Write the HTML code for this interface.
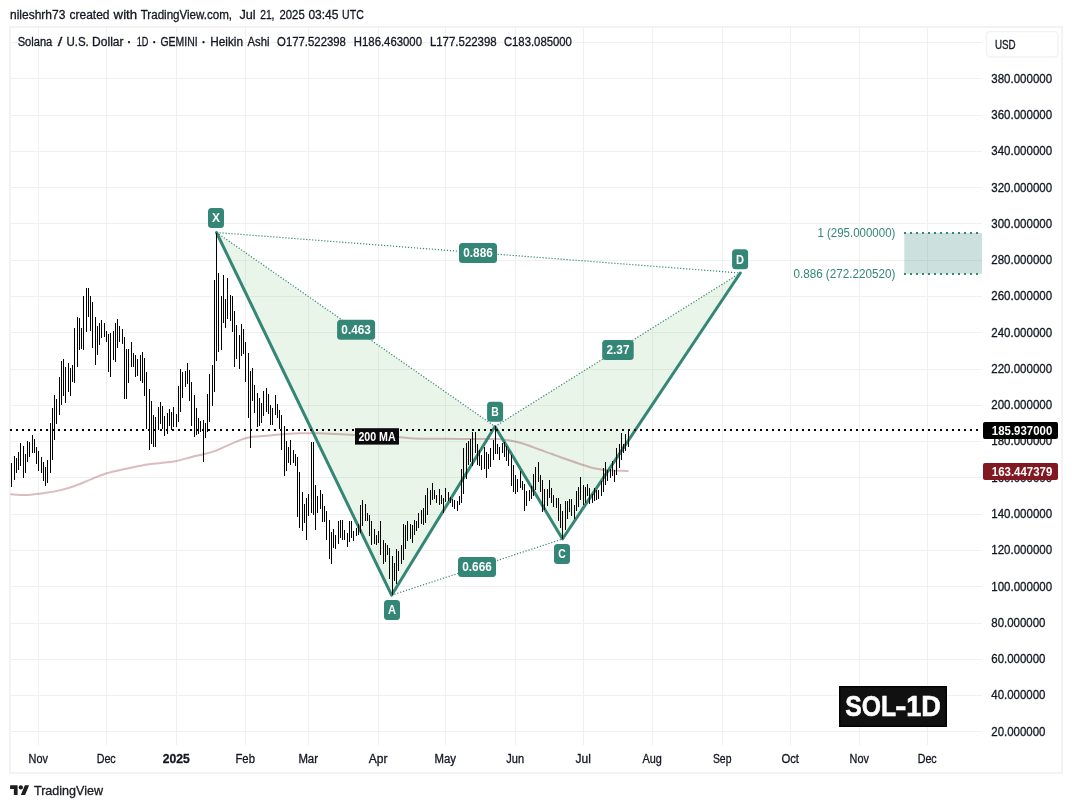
<!DOCTYPE html><html><head><meta charset="utf-8"><title>SOL-1D TradingView chart</title>
<style>html,body{margin:0;padding:0;background:#fff;}body{width:1072px;height:808px;overflow:hidden;}svg{display:block;font-family:"Liberation Sans", sans-serif;}text{white-space:pre;}.n{stroke:#131722;stroke-width:0.3px;}.w{stroke:#fff;stroke-width:0.3px;}</style></head><body>
<svg width="1072" height="808" viewBox="0 0 1072 808">
<rect width="1072" height="808" fill="#fff"/>
<text class="n" x="10.0" y="19" font-size="12.5" fill="#131722" textLength="55.4" lengthAdjust="spacingAndGlyphs">nileshrh73</text>
<text class="n" x="69.5" y="19" font-size="12.5" fill="#131722" textLength="40.0" lengthAdjust="spacingAndGlyphs">created</text>
<text class="n" x="113.6" y="19" font-size="12.5" fill="#131722" textLength="23.5" lengthAdjust="spacingAndGlyphs">with</text>
<text class="n" x="140.7" y="19" font-size="12.5" fill="#131722" textLength="91.4" lengthAdjust="spacingAndGlyphs">TradingView.com,</text>
<text class="n" x="239.4" y="19" font-size="12.5" fill="#131722" textLength="16.2" lengthAdjust="spacingAndGlyphs">Jul</text>
<text class="n" x="260.2" y="19" font-size="12.5" fill="#131722" textLength="14.3" lengthAdjust="spacingAndGlyphs">21,</text>
<text class="n" x="279.5" y="19" font-size="12.5" fill="#131722" textLength="25.2" lengthAdjust="spacingAndGlyphs">2025</text>
<text class="n" x="308.4" y="19" font-size="12.5" fill="#131722" textLength="30.1" lengthAdjust="spacingAndGlyphs">03:45</text>
<text class="n" x="342.1" y="19" font-size="12.5" fill="#131722" textLength="21.7" lengthAdjust="spacingAndGlyphs">UTC</text>
<rect x="10" y="27" width="1052" height="746" fill="none" stroke="#f3f3f3" stroke-width="2"/>
<g fill="#f0f0f1" shape-rendering="crispEdges"><rect x="38" y="28" width="1" height="716.5"/><rect x="106" y="28" width="1" height="716.5"/><rect x="176" y="28" width="1" height="716.5"/><rect x="245" y="28" width="1" height="716.5"/><rect x="308" y="28" width="1" height="716.5"/><rect x="378" y="28" width="1" height="716.5"/><rect x="445" y="28" width="1" height="716.5"/><rect x="515" y="28" width="1" height="716.5"/><rect x="583" y="28" width="1" height="716.5"/><rect x="652" y="28" width="1" height="716.5"/><rect x="722" y="28" width="1" height="716.5"/><rect x="790" y="28" width="1" height="716.5"/><rect x="859" y="28" width="1" height="716.5"/><rect x="927" y="28" width="1" height="716.5"/><rect x="11" y="42" width="971" height="1"/><rect x="11" y="78" width="971" height="1"/><rect x="11" y="115" width="971" height="1"/><rect x="11" y="151" width="971" height="1"/><rect x="11" y="187" width="971" height="1"/><rect x="11" y="223" width="971" height="1"/><rect x="11" y="260" width="971" height="1"/><rect x="11" y="296" width="971" height="1"/><rect x="11" y="332" width="971" height="1"/><rect x="11" y="369" width="971" height="1"/><rect x="11" y="405" width="971" height="1"/><rect x="11" y="441" width="971" height="1"/><rect x="11" y="477" width="971" height="1"/><rect x="11" y="514" width="971" height="1"/><rect x="11" y="550" width="971" height="1"/><rect x="11" y="586" width="971" height="1"/><rect x="11" y="623" width="971" height="1"/><rect x="11" y="659" width="971" height="1"/><rect x="11" y="695" width="971" height="1"/><rect x="11" y="731" width="971" height="1"/></g>
<g fill="rgba(76,175,80,0.125)"><polygon points="216.5,232.5 391.6,595.2 495.0,426.5"/><polygon points="495.0,426.5 562.5,539.0 740.3,273.0"/></g>
<path d="M10.4 494.2C13.2 494.3 21.2 495.1 26.9 494.9C32.6 494.7 39.3 493.8 44.8 493.0C50.3 492.2 54.7 491.6 59.7 490.4C64.7 489.2 69.6 487.8 74.6 486.0C79.6 484.2 84.6 481.9 89.6 479.9C94.6 477.9 99.5 475.6 104.5 474.0C109.5 472.4 114.4 471.4 119.4 470.2C124.4 469.0 129.3 468.0 134.3 467.0C139.3 466.0 144.2 464.9 149.3 464.2C154.4 463.5 160.2 463.1 164.7 462.6C169.2 462.1 172.0 461.9 176.5 461.0C181.0 460.1 187.1 458.1 191.6 457.0C196.1 455.9 199.9 455.2 203.5 454.3C207.1 453.4 209.9 452.7 213.0 451.6C216.1 450.6 219.2 449.2 222.0 448.0C224.8 446.8 227.0 445.7 230.0 444.4C233.0 443.1 236.7 441.3 240.0 440.1C243.3 438.9 245.0 438.1 250.0 437.3C255.0 436.5 263.3 436.1 270.0 435.5C276.7 434.9 285.0 434.1 290.0 433.7C295.0 433.3 295.8 433.3 300.0 433.2C304.2 433.1 310.0 433.2 315.0 433.3C320.0 433.4 323.3 433.4 330.0 433.7C336.7 434.0 346.7 434.6 355.0 435.0C363.3 435.4 372.5 435.8 380.0 436.2C387.5 436.6 394.2 436.8 400.0 437.2C405.8 437.6 407.5 438.2 415.0 438.5C422.5 438.8 435.8 438.6 445.0 438.7C454.2 438.8 461.7 438.9 470.0 439.0C478.3 439.1 489.5 438.9 495.0 439.0C500.5 439.1 500.5 439.2 503.0 439.4C505.5 439.6 507.2 439.8 510.0 440.4C512.8 440.9 516.7 441.8 520.0 442.7C523.3 443.6 526.7 444.8 530.0 446.0C533.3 447.2 536.3 448.5 540.0 449.8C543.7 451.1 548.7 452.8 552.0 454.0C555.3 455.2 557.0 455.9 560.0 457.0C563.0 458.1 566.7 459.3 570.0 460.5C573.3 461.7 576.7 462.9 580.0 464.0C583.3 465.1 586.7 466.4 590.0 467.3C593.3 468.2 596.7 468.7 600.0 469.2C603.3 469.7 606.7 469.9 610.0 470.2C613.3 470.4 616.9 470.6 620.0 470.7C623.1 470.8 627.1 470.9 628.5 471.0" fill="none" stroke="rgba(128,25,34,0.29)" stroke-width="2" stroke-linejoin="round"/>
<polyline points="216.5,232.5 391.6,595.2 495.0,426.5 562.5,539.0 740.3,273.0" fill="none" stroke="#348676" stroke-width="3" stroke-linejoin="round" stroke-linecap="round"/>
<g stroke="#348676" stroke-width="1.2" stroke-dasharray="1.2 1.8" fill="none"><line x1="216.5" y1="232.5" x2="495.0" y2="426.5"/><line x1="495.0" y1="426.5" x2="740.3" y2="273.0"/><line x1="391.6" y1="595.2" x2="562.5" y2="539.0"/><line x1="216.5" y1="232.5" x2="740.3" y2="273.0"/></g>
<g fill="#000" shape-rendering="crispEdges"><rect x="11" y="463" width="1" height="24"/><rect x="14" y="456" width="1" height="24"/><rect x="16" y="458" width="1" height="15"/><rect x="18" y="452" width="1" height="18"/><rect x="20" y="443" width="1" height="23"/><rect x="23" y="446" width="1" height="32"/><rect x="25" y="454" width="1" height="19"/><rect x="27" y="441" width="1" height="21"/><rect x="29" y="442" width="1" height="15"/><rect x="32" y="435" width="1" height="18"/><rect x="34" y="439" width="1" height="14"/><rect x="36" y="447" width="1" height="17"/><rect x="38" y="451" width="1" height="20"/><rect x="41" y="457" width="1" height="16"/><rect x="43" y="462" width="1" height="19"/><rect x="45" y="467" width="1" height="19"/><rect x="47" y="460" width="1" height="23"/><rect x="50" y="423" width="1" height="50"/><rect x="52" y="408" width="1" height="52"/><rect x="54" y="395" width="1" height="45"/><rect x="56" y="399" width="1" height="25"/><rect x="59" y="377" width="1" height="38"/><rect x="61" y="361" width="1" height="44"/><rect x="63" y="359" width="1" height="37"/><rect x="65" y="367" width="1" height="36"/><rect x="68" y="363" width="1" height="29"/><rect x="70" y="368" width="1" height="28"/><rect x="72" y="365" width="1" height="17"/><rect x="74" y="328" width="1" height="55"/><rect x="77" y="317" width="1" height="50"/><rect x="79" y="318" width="1" height="32"/><rect x="81" y="328" width="1" height="21"/><rect x="83" y="296" width="1" height="54"/><rect x="86" y="288" width="1" height="44"/><rect x="88" y="288" width="1" height="29"/><rect x="90" y="296" width="1" height="35"/><rect x="92" y="302" width="1" height="46"/><rect x="95" y="317" width="1" height="48"/><rect x="97" y="326" width="1" height="29"/><rect x="99" y="323" width="1" height="22"/><rect x="101" y="320" width="1" height="18"/><rect x="104" y="323" width="1" height="14"/><rect x="106" y="331" width="1" height="11"/><rect x="108" y="334" width="1" height="38"/><rect x="110" y="333" width="1" height="44"/><rect x="113" y="331" width="1" height="29"/><rect x="115" y="323" width="1" height="39"/><rect x="117" y="319" width="1" height="29"/><rect x="119" y="326" width="1" height="16"/><rect x="122" y="329" width="1" height="15"/><rect x="124" y="337" width="1" height="62"/><rect x="126" y="349" width="1" height="50"/><rect x="128" y="349" width="1" height="34"/><rect x="131" y="342" width="1" height="25"/><rect x="133" y="353" width="1" height="14"/><rect x="135" y="355" width="1" height="22"/><rect x="137" y="359" width="1" height="17"/><rect x="140" y="355" width="1" height="26"/><rect x="142" y="352" width="1" height="31"/><rect x="144" y="358" width="1" height="38"/><rect x="146" y="372" width="1" height="57"/><rect x="149" y="389" width="1" height="61"/><rect x="151" y="401" width="1" height="43"/><rect x="153" y="415" width="1" height="32"/><rect x="155" y="417" width="1" height="30"/><rect x="158" y="407" width="1" height="23"/><rect x="160" y="402" width="1" height="22"/><rect x="162" y="406" width="1" height="23"/><rect x="164" y="416" width="1" height="20"/><rect x="167" y="413" width="1" height="21"/><rect x="169" y="409" width="1" height="17"/><rect x="171" y="412" width="1" height="18"/><rect x="173" y="407" width="1" height="20"/><rect x="176" y="414" width="1" height="13"/><rect x="178" y="386" width="1" height="36"/><rect x="180" y="369" width="1" height="43"/><rect x="182" y="372" width="1" height="26"/><rect x="185" y="371" width="1" height="16"/><rect x="187" y="363" width="1" height="21"/><rect x="189" y="370" width="1" height="31"/><rect x="191" y="382" width="1" height="44"/><rect x="194" y="395" width="1" height="42"/><rect x="196" y="408" width="1" height="27"/><rect x="198" y="418" width="1" height="16"/><rect x="200" y="421" width="1" height="11"/><rect x="203" y="420" width="1" height="42"/><rect x="205" y="423" width="1" height="15"/><rect x="207" y="394" width="1" height="38"/><rect x="209" y="374" width="1" height="48"/><rect x="212" y="365" width="1" height="41"/><rect x="214" y="280" width="1" height="112"/><rect x="216" y="233" width="1" height="128"/><rect x="218" y="273" width="1" height="79"/><rect x="221" y="296" width="1" height="54"/><rect x="223" y="275" width="1" height="48"/><rect x="225" y="299" width="1" height="29"/><rect x="227" y="278" width="1" height="41"/><rect x="230" y="295" width="1" height="26"/><rect x="232" y="296" width="1" height="36"/><rect x="234" y="311" width="1" height="56"/><rect x="236" y="325" width="1" height="34"/><rect x="239" y="335" width="1" height="34"/><rect x="241" y="324" width="1" height="32"/><rect x="243" y="329" width="1" height="25"/><rect x="245" y="342" width="1" height="40"/><rect x="248" y="353" width="1" height="65"/><rect x="250" y="371" width="1" height="77"/><rect x="252" y="368" width="1" height="33"/><rect x="254" y="385" width="1" height="28"/><rect x="257" y="393" width="1" height="34"/><rect x="259" y="398" width="1" height="28"/><rect x="261" y="403" width="1" height="20"/><rect x="263" y="391" width="1" height="25"/><rect x="266" y="388" width="1" height="24"/><rect x="268" y="394" width="1" height="20"/><rect x="270" y="405" width="1" height="20"/><rect x="272" y="408" width="1" height="17"/><rect x="275" y="395" width="1" height="20"/><rect x="277" y="404" width="1" height="14"/><rect x="279" y="410" width="1" height="19"/><rect x="281" y="415" width="1" height="35"/><rect x="284" y="426" width="1" height="50"/><rect x="286" y="441" width="1" height="30"/><rect x="288" y="447" width="1" height="16"/><rect x="290" y="440" width="1" height="25"/><rect x="293" y="450" width="1" height="13"/><rect x="295" y="454" width="1" height="12"/><rect x="297" y="457" width="1" height="60"/><rect x="299" y="472" width="1" height="56"/><rect x="302" y="492" width="1" height="39"/><rect x="304" y="504" width="1" height="19"/><rect x="306" y="498" width="1" height="42"/><rect x="308" y="494" width="1" height="22"/><rect x="311" y="442" width="1" height="71"/><rect x="313" y="442" width="1" height="73"/><rect x="315" y="485" width="1" height="45"/><rect x="317" y="496" width="1" height="17"/><rect x="320" y="490" width="1" height="19"/><rect x="322" y="494" width="1" height="28"/><rect x="324" y="506" width="1" height="16"/><rect x="326" y="511" width="1" height="29"/><rect x="329" y="520" width="1" height="39"/><rect x="331" y="532" width="1" height="32"/><rect x="333" y="529" width="1" height="19"/><rect x="335" y="535" width="1" height="14"/><rect x="338" y="521" width="1" height="23"/><rect x="340" y="520" width="1" height="18"/><rect x="342" y="520" width="1" height="20"/><rect x="344" y="530" width="1" height="10"/><rect x="347" y="533" width="1" height="14"/><rect x="349" y="521" width="1" height="21"/><rect x="351" y="521" width="1" height="17"/><rect x="353" y="531" width="1" height="10"/><rect x="356" y="528" width="1" height="8"/><rect x="358" y="524" width="1" height="11"/><rect x="360" y="505" width="1" height="28"/><rect x="362" y="500" width="1" height="26"/><rect x="365" y="504" width="1" height="17"/><rect x="367" y="513" width="1" height="8"/><rect x="369" y="515" width="1" height="21"/><rect x="371" y="521" width="1" height="24"/><rect x="374" y="529" width="1" height="15"/><rect x="376" y="535" width="1" height="10"/><rect x="378" y="531" width="1" height="12"/><rect x="380" y="521" width="1" height="34"/><rect x="383" y="540" width="1" height="24"/><rect x="385" y="543" width="1" height="19"/><rect x="387" y="545" width="1" height="10"/><rect x="389" y="548" width="1" height="31"/><rect x="392" y="556" width="1" height="39"/><rect x="394" y="563" width="1" height="18"/><rect x="396" y="549" width="1" height="35"/><rect x="398" y="551" width="1" height="20"/><rect x="401" y="545" width="1" height="19"/><rect x="403" y="524" width="1" height="36"/><rect x="405" y="525" width="1" height="24"/><rect x="407" y="521" width="1" height="20"/><rect x="410" y="524" width="1" height="15"/><rect x="412" y="525" width="1" height="18"/><rect x="414" y="520" width="1" height="15"/><rect x="416" y="521" width="1" height="10"/><rect x="418" y="513" width="1" height="15"/><rect x="421" y="510" width="1" height="14"/><rect x="423" y="508" width="1" height="17"/><rect x="425" y="495" width="1" height="28"/><rect x="427" y="488" width="1" height="27"/><rect x="430" y="490" width="1" height="15"/><rect x="432" y="483" width="1" height="17"/><rect x="434" y="490" width="1" height="9"/><rect x="436" y="495" width="1" height="8"/><rect x="439" y="489" width="1" height="16"/><rect x="441" y="495" width="1" height="9"/><rect x="443" y="498" width="1" height="15"/><rect x="445" y="488" width="1" height="14"/><rect x="448" y="492" width="1" height="9"/><rect x="450" y="497" width="1" height="6"/><rect x="452" y="499" width="1" height="8"/><rect x="454" y="500" width="1" height="9"/><rect x="457" y="501" width="1" height="10"/><rect x="459" y="496" width="1" height="9"/><rect x="461" y="469" width="1" height="34"/><rect x="463" y="448" width="1" height="46"/><rect x="466" y="443" width="1" height="36"/><rect x="468" y="441" width="1" height="24"/><rect x="470" y="439" width="1" height="23"/><rect x="472" y="432" width="1" height="34"/><rect x="475" y="432" width="1" height="21"/><rect x="477" y="444" width="1" height="21"/><rect x="479" y="450" width="1" height="16"/><rect x="481" y="455" width="1" height="15"/><rect x="484" y="447" width="1" height="22"/><rect x="486" y="452" width="1" height="26"/><rect x="488" y="454" width="1" height="15"/><rect x="490" y="448" width="1" height="19"/><rect x="493" y="440" width="1" height="20"/><rect x="495" y="426" width="1" height="28"/><rect x="497" y="444" width="1" height="10"/><rect x="499" y="447" width="1" height="13"/><rect x="502" y="443" width="1" height="10"/><rect x="504" y="442" width="1" height="15"/><rect x="506" y="446" width="1" height="15"/><rect x="508" y="450" width="1" height="16"/><rect x="511" y="455" width="1" height="31"/><rect x="513" y="465" width="1" height="27"/><rect x="515" y="475" width="1" height="19"/><rect x="517" y="479" width="1" height="13"/><rect x="520" y="471" width="1" height="17"/><rect x="522" y="481" width="1" height="9"/><rect x="524" y="484" width="1" height="27"/><rect x="526" y="491" width="1" height="15"/><rect x="529" y="490" width="1" height="11"/><rect x="531" y="486" width="1" height="13"/><rect x="533" y="474" width="1" height="22"/><rect x="535" y="467" width="1" height="23"/><rect x="538" y="462" width="1" height="20"/><rect x="540" y="475" width="1" height="17"/><rect x="542" y="480" width="1" height="32"/><rect x="544" y="489" width="1" height="21"/><rect x="547" y="489" width="1" height="17"/><rect x="549" y="480" width="1" height="18"/><rect x="551" y="488" width="1" height="15"/><rect x="553" y="495" width="1" height="12"/><rect x="556" y="498" width="1" height="10"/><rect x="558" y="498" width="1" height="23"/><rect x="560" y="504" width="1" height="24"/><rect x="562" y="511" width="1" height="28"/><rect x="565" y="501" width="1" height="29"/><rect x="567" y="501" width="1" height="18"/><rect x="569" y="499" width="1" height="13"/><rect x="571" y="499" width="1" height="17"/><rect x="574" y="505" width="1" height="14"/><rect x="576" y="491" width="1" height="20"/><rect x="578" y="487" width="1" height="20"/><rect x="580" y="477" width="1" height="23"/><rect x="583" y="485" width="1" height="20"/><rect x="585" y="487" width="1" height="16"/><rect x="587" y="484" width="1" height="12"/><rect x="589" y="488" width="1" height="16"/><rect x="592" y="494" width="1" height="9"/><rect x="594" y="488" width="1" height="13"/><rect x="596" y="490" width="1" height="10"/><rect x="598" y="490" width="1" height="9"/><rect x="601" y="481" width="1" height="15"/><rect x="603" y="468" width="1" height="24"/><rect x="605" y="462" width="1" height="23"/><rect x="607" y="470" width="1" height="11"/><rect x="610" y="469" width="1" height="9"/><rect x="612" y="461" width="1" height="15"/><rect x="614" y="470" width="1" height="12"/><rect x="616" y="448" width="1" height="27"/><rect x="619" y="444" width="1" height="24"/><rect x="621" y="433" width="1" height="27"/><rect x="623" y="444" width="1" height="9"/><rect x="625" y="434" width="1" height="17"/><rect x="628" y="429" width="1" height="18"/></g>
<line x1="10" y1="430" x2="982" y2="430" stroke="#000" stroke-width="2" stroke-dasharray="2 4" shape-rendering="crispEdges"/>
<rect x="904.3" y="233" width="77.7" height="40.7" fill="rgba(52,134,118,0.25)"/>
<g stroke="#348676" stroke-width="2" stroke-dasharray="2 4" shape-rendering="crispEdges"><line x1="904" y1="233" x2="982" y2="233"/><line x1="904" y1="274" x2="982" y2="274"/></g>
<text x="895.4" y="237.3" font-size="12" fill="#348676" text-anchor="end" textLength="78" lengthAdjust="spacingAndGlyphs">1 (295.000000)</text>
<text x="895.4" y="278" font-size="12" fill="#348676" text-anchor="end" textLength="102" lengthAdjust="spacingAndGlyphs">0.886 (272.220520)</text>
<rect x="208.0" y="208.0" width="16.0" height="20.0" rx="3.5" fill="#348676"/><text x="216.0" y="222.4" font-size="12" font-weight="bold" fill="#fff" text-anchor="middle" textLength="8.0" lengthAdjust="spacingAndGlyphs">X</text>
<rect x="384.0" y="600.0" width="16.0" height="20.0" rx="3.5" fill="#348676"/><text x="392.0" y="614.4" font-size="12" font-weight="bold" fill="#fff" text-anchor="middle" textLength="8.0" lengthAdjust="spacingAndGlyphs">A</text>
<rect x="487.1" y="401.8" width="16.0" height="20.0" rx="3.5" fill="#348676"/><text x="495.1" y="416.2" font-size="12" font-weight="bold" fill="#fff" text-anchor="middle" textLength="7.5" lengthAdjust="spacingAndGlyphs">B</text>
<rect x="554.0" y="544.0" width="16.0" height="20.0" rx="3.5" fill="#348676"/><text x="562.0" y="558.4" font-size="12" font-weight="bold" fill="#fff" text-anchor="middle" textLength="7.5" lengthAdjust="spacingAndGlyphs">C</text>
<rect x="732.1" y="249.2" width="16.0" height="20.0" rx="3.5" fill="#348676"/><text x="740.1" y="263.6" font-size="12" font-weight="bold" fill="#fff" text-anchor="middle" textLength="8.0" lengthAdjust="spacingAndGlyphs">D</text>
<rect x="459.0" y="243.0" width="38.0" height="20.0" rx="3.5" fill="#348676"/><text x="478.0" y="257.4" font-size="12" font-weight="bold" fill="#fff" text-anchor="middle" textLength="29.5" lengthAdjust="spacingAndGlyphs">0.886</text>
<rect x="337.1" y="319.8" width="38.0" height="20.0" rx="3.5" fill="#348676"/><text x="356.1" y="334.2" font-size="12" font-weight="bold" fill="#fff" text-anchor="middle" textLength="29.5" lengthAdjust="spacingAndGlyphs">0.463</text>
<rect x="602.2" y="340.0" width="31.5" height="20.0" rx="3.5" fill="#348676"/><text x="618.0" y="354.4" font-size="12" font-weight="bold" fill="#fff" text-anchor="middle" textLength="23.0" lengthAdjust="spacingAndGlyphs">2.37</text>
<rect x="458.0" y="557.0" width="38.0" height="20.0" rx="3.5" fill="#348676"/><text x="477.0" y="571.4" font-size="12" font-weight="bold" fill="#fff" text-anchor="middle" textLength="29.5" lengthAdjust="spacingAndGlyphs">0.666</text>
<rect x="355" y="428.2" width="44" height="16.4" fill="#0a0a0a"/>
<text x="358.4" y="440.6" font-size="12" font-weight="bold" fill="#fff" textLength="37.3" lengthAdjust="spacingAndGlyphs">200 MA</text>
<text class="n" x="17.7" y="46.1" font-size="12" fill="#131722" textLength="34.6" lengthAdjust="spacingAndGlyphs">Solana</text>
<text class="n" x="57.7" y="46.1" font-size="12" fill="#131722" textLength="4.6" lengthAdjust="spacingAndGlyphs">/</text>
<text class="n" x="66.4" y="46.1" font-size="12" fill="#131722" textLength="22.4" lengthAdjust="spacingAndGlyphs">U.S.</text>
<text class="n" x="92.1" y="46.1" font-size="12" fill="#131722" textLength="31.4" lengthAdjust="spacingAndGlyphs">Dollar</text>
<text class="n" x="127.5" y="46.1" font-size="13" fill="#131722" textLength="3.6" lengthAdjust="spacingAndGlyphs" font-weight="bold">·</text>
<text class="n" x="136.7" y="46.1" font-size="12" fill="#131722" textLength="11.7" lengthAdjust="spacingAndGlyphs">1D</text>
<text class="n" x="152.7" y="46.1" font-size="13" fill="#131722" textLength="3.6" lengthAdjust="spacingAndGlyphs" font-weight="bold">·</text>
<text class="n" x="160.5" y="46.1" font-size="12" fill="#131722" textLength="37.1" lengthAdjust="spacingAndGlyphs">GEMINI</text>
<text class="n" x="201.9" y="46.1" font-size="13" fill="#131722" textLength="3.6" lengthAdjust="spacingAndGlyphs" font-weight="bold">·</text>
<text class="n" x="210.3" y="46.1" font-size="12" fill="#131722" textLength="32.7" lengthAdjust="spacingAndGlyphs">Heikin</text>
<text class="n" x="247.6" y="46.1" font-size="12" fill="#131722" textLength="21.9" lengthAdjust="spacingAndGlyphs">Ashi</text>
<text class="n" x="277.1" y="46.1" font-size="12" fill="#131722" textLength="68.8" lengthAdjust="spacingAndGlyphs">O177.522398</text>
<text class="n" x="353.8" y="46.1" font-size="12" fill="#131722" textLength="68.2" lengthAdjust="spacingAndGlyphs">H186.463000</text>
<text class="n" x="429.9" y="46.1" font-size="12" fill="#131722" textLength="66.8" lengthAdjust="spacingAndGlyphs">L177.522398</text>
<text class="n" x="503.9" y="46.1" font-size="12" fill="#131722" textLength="68.0" lengthAdjust="spacingAndGlyphs">C183.085000</text>
<rect x="986.5" y="31.5" width="71.5" height="25.5" rx="4" fill="#fff" stroke="#f3f3f3" stroke-width="1.6"/>
<text class="n" x="995.0" y="49.0" font-size="12" fill="#131722" textLength="20.7" lengthAdjust="spacingAndGlyphs">USD</text>
<text class="n" x="991.3" y="82.6" font-size="12" fill="#131722" textLength="60.8" lengthAdjust="spacingAndGlyphs">380.000000</text>
<text class="n" x="991.3" y="118.9" font-size="12" fill="#131722" textLength="60.8" lengthAdjust="spacingAndGlyphs">360.000000</text>
<text class="n" x="991.3" y="155.2" font-size="12" fill="#131722" textLength="60.8" lengthAdjust="spacingAndGlyphs">340.000000</text>
<text class="n" x="991.3" y="191.5" font-size="12" fill="#131722" textLength="60.8" lengthAdjust="spacingAndGlyphs">320.000000</text>
<text class="n" x="991.3" y="227.8" font-size="12" fill="#131722" textLength="60.8" lengthAdjust="spacingAndGlyphs">300.000000</text>
<text class="n" x="991.3" y="264.1" font-size="12" fill="#131722" textLength="60.8" lengthAdjust="spacingAndGlyphs">280.000000</text>
<text class="n" x="991.3" y="300.3" font-size="12" fill="#131722" textLength="60.8" lengthAdjust="spacingAndGlyphs">260.000000</text>
<text class="n" x="991.3" y="336.6" font-size="12" fill="#131722" textLength="60.8" lengthAdjust="spacingAndGlyphs">240.000000</text>
<text class="n" x="991.3" y="372.9" font-size="12" fill="#131722" textLength="60.8" lengthAdjust="spacingAndGlyphs">220.000000</text>
<text class="n" x="991.3" y="409.2" font-size="12" fill="#131722" textLength="60.8" lengthAdjust="spacingAndGlyphs">200.000000</text>
<text class="n" x="991.3" y="445.4" font-size="12" fill="#131722" textLength="60.8" lengthAdjust="spacingAndGlyphs">180.000000</text>
<text class="n" x="991.3" y="481.7" font-size="12" fill="#131722" textLength="60.8" lengthAdjust="spacingAndGlyphs">160.000000</text>
<text class="n" x="991.3" y="518.0" font-size="12" fill="#131722" textLength="60.8" lengthAdjust="spacingAndGlyphs">140.000000</text>
<text class="n" x="991.3" y="554.3" font-size="12" fill="#131722" textLength="60.8" lengthAdjust="spacingAndGlyphs">120.000000</text>
<text class="n" x="991.3" y="590.6" font-size="12" fill="#131722" textLength="60.8" lengthAdjust="spacingAndGlyphs">100.000000</text>
<text class="n" x="991.3" y="626.9" font-size="12" fill="#131722" textLength="54.2" lengthAdjust="spacingAndGlyphs">80.000000</text>
<text class="n" x="991.3" y="663.1" font-size="12" fill="#131722" textLength="54.2" lengthAdjust="spacingAndGlyphs">60.000000</text>
<text class="n" x="991.3" y="699.4" font-size="12" fill="#131722" textLength="54.2" lengthAdjust="spacingAndGlyphs">40.000000</text>
<text class="n" x="991.3" y="735.7" font-size="12" fill="#131722" textLength="54.2" lengthAdjust="spacingAndGlyphs">20.000000</text>
<rect x="983" y="422" width="75" height="17" rx="2" fill="#000"/>
<text class="" x="991.8" y="434.6" font-size="12" fill="#fff" textLength="60.5" lengthAdjust="spacingAndGlyphs" font-weight="bold">185.937000</text>
<rect x="983" y="463" width="75" height="17" rx="2" fill="#801922"/>
<text class="" x="991.8" y="475.8" font-size="12" fill="#fff" textLength="60.5" lengthAdjust="spacingAndGlyphs" font-weight="bold">163.447379</text>
<text class="n" x="38.2" y="762.6" font-size="12" fill="#131722" text-anchor="middle" textLength="19.3" lengthAdjust="spacingAndGlyphs">Nov</text>
<text class="n" x="106.2" y="762.6" font-size="12" fill="#131722" text-anchor="middle" textLength="19.1" lengthAdjust="spacingAndGlyphs">Dec</text>
<text class="n" x="176.2" y="762.6" font-size="12" fill="#131722" text-anchor="middle" textLength="27.0" lengthAdjust="spacingAndGlyphs" font-weight="bold">2025</text>
<text class="n" x="245.2" y="762.6" font-size="12" fill="#131722" text-anchor="middle" textLength="19.5" lengthAdjust="spacingAndGlyphs">Feb</text>
<text class="n" x="308.2" y="762.6" font-size="12" fill="#131722" text-anchor="middle" textLength="19.6" lengthAdjust="spacingAndGlyphs">Mar</text>
<text class="n" x="378.2" y="762.6" font-size="12" fill="#131722" text-anchor="middle" textLength="18.8" lengthAdjust="spacingAndGlyphs">Apr</text>
<text class="n" x="445.2" y="762.6" font-size="12" fill="#131722" text-anchor="middle" textLength="21.5" lengthAdjust="spacingAndGlyphs">May</text>
<text class="n" x="515.2" y="762.6" font-size="12" fill="#131722" text-anchor="middle" textLength="17.8" lengthAdjust="spacingAndGlyphs">Jun</text>
<text class="n" x="583.2" y="762.6" font-size="12" fill="#131722" text-anchor="middle" textLength="15.3" lengthAdjust="spacingAndGlyphs">Jul</text>
<text class="n" x="652.2" y="762.6" font-size="12" fill="#131722" text-anchor="middle" textLength="19.4" lengthAdjust="spacingAndGlyphs">Aug</text>
<text class="n" x="722.2" y="762.6" font-size="12" fill="#131722" text-anchor="middle" textLength="18.5" lengthAdjust="spacingAndGlyphs">Sep</text>
<text class="n" x="790.2" y="762.6" font-size="12" fill="#131722" text-anchor="middle" textLength="17.6" lengthAdjust="spacingAndGlyphs">Oct</text>
<text class="n" x="859.2" y="762.6" font-size="12" fill="#131722" text-anchor="middle" textLength="19.3" lengthAdjust="spacingAndGlyphs">Nov</text>
<text class="n" x="927.2" y="762.6" font-size="12" fill="#131722" text-anchor="middle" textLength="19.1" lengthAdjust="spacingAndGlyphs">Dec</text>
<rect x="839.7" y="686.7" width="106.6" height="39.6" fill="#111" stroke="#000" stroke-width="1.4"/>
<text x="845.3" y="715.9" font-size="29.7" font-weight="bold" fill="#fff" stroke="#fff" stroke-width="0.6" textLength="50.8" lengthAdjust="spacingAndGlyphs">SOL</text>
<text x="895.2" y="715.9" font-size="29.7" font-weight="bold" fill="#fff" stroke="#fff" stroke-width="0.6" textLength="11.2" lengthAdjust="spacingAndGlyphs">-</text>
<text x="906.3" y="715.9" font-size="29.7" font-weight="bold" fill="#fff" stroke="#fff" stroke-width="0.6" textLength="34.6" lengthAdjust="spacingAndGlyphs">1D</text>
<g transform="translate(10.1,783.1) scale(0.536)" fill="#1d1d1d"><path d="M14 22H7V11H0V4h14v18zM28 22h-8l7.5-18h8L28 22z"/><circle cx="20" cy="8" r="4"/></g>
<text class="n" x="34.0" y="794.9" font-size="12.5" fill="#1d1d1d" textLength="69.0" lengthAdjust="spacingAndGlyphs">TradingView</text>
</svg></body></html>
